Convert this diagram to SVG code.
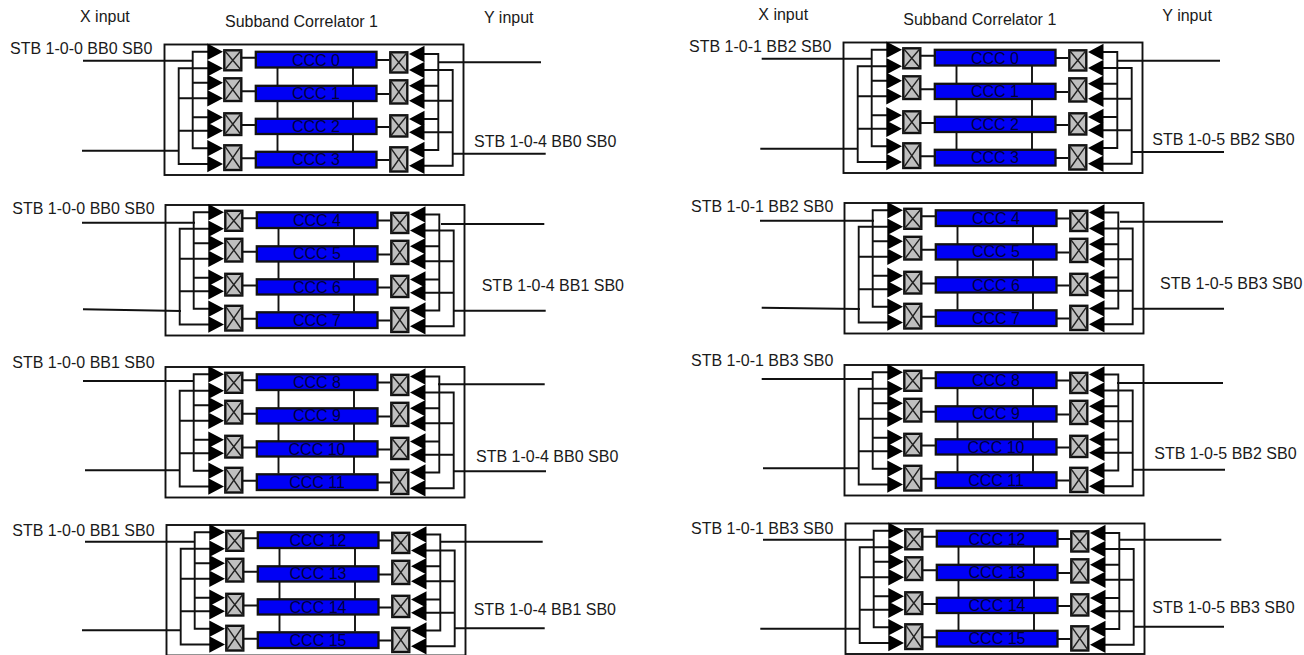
<svg xmlns="http://www.w3.org/2000/svg" width="1304" height="655" viewBox="0 0 1304 655">
<style>
text{font-family:"Liberation Sans",Arial,sans-serif;font-size:16px;fill:#1a1a1a}
.c{text-anchor:middle;fill:#00003c}
.w{fill:none;stroke:#111;stroke-width:1.9}
.f{fill:none;stroke:#111;stroke-width:1.9}
.t{fill:#000;stroke:none}
.x{fill:#bfbfbf;stroke:#111;stroke-width:2.4}
.xc{fill:none;stroke:#222;stroke-width:1.4}
.b{fill:#0000f5;stroke:#111;stroke-width:2.3}
</style>
<defs>
<g id="art">
<rect class="f" x="164.500" y="44.500" width="299" height="130.500"/>
<path class="t" d="M207.300 43.500L223 51.700L207.300 59.900ZM207.300 60.100L223 68.300L207.300 76.500ZM207.300 74.500L223 82.700L207.300 90.900ZM207.300 90.100L223 98.300L207.300 106.500ZM207.300 109.100L223 117.300L207.300 125.500ZM207.300 122.500L223 130.700L207.300 138.900ZM207.300 140.100L223 148.300L207.300 156.500ZM207.300 155.800L223 164L207.300 172.200Z"/>
<path class="t" d="M424.500 45.800L409 54L424.500 62.200ZM424.500 61.800L409 70L424.500 78.200ZM424.500 77.500L409 85.700L424.500 93.900ZM424.500 92.500L409 100.700L424.500 108.900ZM424.500 110.800L409 119L424.500 127.200ZM424.500 124.100L409 132.300L424.500 140.500ZM424.500 141.800L409 150L424.500 158.200ZM424.500 157.500L409 165.700L424.500 173.900Z"/>
<rect class="x" x="224.300" y="50.300" width="17" height="20"/><path class="xc" d="M224.300 50.300L241.300 70.300M241.300 50.300L224.300 70.300"/>
<rect class="x" x="224.300" y="78.300" width="17" height="22.700"/><path class="xc" d="M224.300 78.300L241.300 101M241.300 78.300L224.300 101"/>
<rect class="x" x="224.300" y="113.300" width="17" height="21.700"/><path class="xc" d="M224.300 113.300L241.300 135M241.300 113.300L224.300 135"/>
<rect class="x" x="224.300" y="145.300" width="17" height="24.700"/><path class="xc" d="M224.300 145.300L241.300 170M241.300 145.300L224.300 170"/>
<rect class="x" x="390.300" y="52.300" width="17" height="20.200"/><path class="xc" d="M390.300 52.300L407.300 72.500M407.300 52.300L390.300 72.500"/>
<rect class="x" x="390.300" y="80.300" width="17" height="23.200"/><path class="xc" d="M390.300 80.300L407.300 103.500M407.300 80.300L390.300 103.500"/>
<rect class="x" x="390.300" y="115.300" width="17" height="21.200"/><path class="xc" d="M390.300 115.300L407.300 136.500M407.300 115.300L390.300 136.500"/>
<rect class="x" x="390.300" y="147.300" width="17" height="24.200"/><path class="xc" d="M390.300 147.300L407.300 171.500M407.300 147.300L390.300 171.500"/>
</g>
<rect id="c0" class="b" x="255.800" y="51.800" width="120.700" height="15.700"/>
<rect id="c1" class="b" x="255.800" y="85.800" width="120.700" height="15.200"/>
<rect id="c2" class="b" x="255.800" y="118.800" width="120.700" height="15.200"/>
<rect id="c3" class="b" x="255.800" y="151.800" width="120.700" height="15.700"/>
<g id="wires">
<path class="w" d="M208 51.700H192.700V148.300H208M192.700 82.700H208M192.700 117.300H208M208 68.300H178.700V164H208M178.700 98.300H208M178.700 130.700H208"/>
<path class="w" d="M424 54H438.300V150H424M438.300 85.700H424M438.300 119H424M424 70H452.700V165.700H424M452.700 100.700H424M452.700 132.300H424"/>
<path class="w" d="M241.500 57.700H255M241.500 91.300H255M241.500 125H255M241.500 158.300H255M377 60H389M377 94H389M377 127H389M377 160H389M277.500 68V151M353 68V151"/>
</g>
</defs>
<rect width="1304" height="655" fill="#fff"/>
<g id="connectors">
<use href="#wires"/>
<use href="#wires" transform="translate(1,160.500)"/>
<use href="#wires" transform="translate(1,322.500)"/>
<use href="#wires" transform="translate(2,480.500)"/>
<use href="#wires" transform="translate(679,-2)"/>
<use href="#wires" transform="translate(680,158.500)"/>
<use href="#wires" transform="translate(680,320.500)"/>
<use href="#wires" transform="translate(681,479)"/>
<path class="w" d="M83 60.700H192.700M82 150.700H178.700M438.300 62.300H541M452.700 153.700H545.700"/>
<path class="w" d="M82 222.700H195M83 309.300L181 311M441 224H544.300M453.700 310.700H545.700"/>
<path class="w" d="M83 381H194M85 470.300H179.700M438 384.300H544.700M454 471.300H546"/>
<path class="w" d="M85 541.700H194M82 630.300H181M441 541.700H542.700M455 628.300H544.700"/>
<path class="w" d="M761.700 58.700H871M760.300 148.700H857M1117 60.700H1220M1131 152H1224"/>
<path class="w" d="M760 220.700H874M761.700 307.700L860 309M1120 221.700H1223M1132 308.700H1224"/>
<path class="w" d="M761.700 379H873M763 468.300H858M1117 383H1223M1133 469.700H1225"/>
<path class="w" d="M763 539.700H873M760.300 628.700H859M1120 539.700H1221.300M1134 626.700H1224"/>
</g>
<g id="correlator-a1"><use href="#art"/>
<g id="a-ccc0"><use href="#c0"/><text class="c" x="316" y="65.500">CCC 0</text></g>
<g id="a-ccc1"><use href="#c1"/><text class="c" x="316" y="98.500">CCC 1</text></g>
<g id="a-ccc2"><use href="#c2"/><text class="c" x="316" y="132">CCC 2</text></g>
<g id="a-ccc3"><use href="#c3"/><text class="c" x="316" y="165">CCC 3</text></g>
</g>
<g id="correlator-a2" transform="translate(1,160.500)"><use href="#art"/>
<g id="a-ccc4"><use href="#c0"/><text class="c" x="316" y="65.500">CCC 4</text></g>
<g id="a-ccc5"><use href="#c1"/><text class="c" x="316" y="98.500">CCC 5</text></g>
<g id="a-ccc6"><use href="#c2"/><text class="c" x="316" y="132">CCC 6</text></g>
<g id="a-ccc7"><use href="#c3"/><text class="c" x="316" y="165">CCC 7</text></g>
</g>
<g id="correlator-a3" transform="translate(1,322.500)"><use href="#art"/>
<g id="a-ccc8"><use href="#c0"/><text class="c" x="316" y="65.500">CCC 8</text></g>
<g id="a-ccc9"><use href="#c1"/><text class="c" x="316" y="98.500">CCC 9</text></g>
<g id="a-ccc10"><use href="#c2"/><text class="c" x="316" y="132">CCC 10</text></g>
<g id="a-ccc11"><use href="#c3"/><text class="c" x="316" y="165">CCC 11</text></g>
</g>
<g id="correlator-a4" transform="translate(2,480.500)"><use href="#art"/>
<g id="a-ccc12"><use href="#c0"/><text class="c" x="316" y="65.500">CCC 12</text></g>
<g id="a-ccc13"><use href="#c1"/><text class="c" x="316" y="98.500">CCC 13</text></g>
<g id="a-ccc14"><use href="#c2"/><text class="c" x="316" y="132">CCC 14</text></g>
<g id="a-ccc15"><use href="#c3"/><text class="c" x="316" y="165">CCC 15</text></g>
</g>
<g id="correlator-b1" transform="translate(679,-2)"><use href="#art"/>
<g id="b-ccc0"><use href="#c0"/><text class="c" x="316" y="65.500">CCC 0</text></g>
<g id="b-ccc1"><use href="#c1"/><text class="c" x="316" y="98.500">CCC 1</text></g>
<g id="b-ccc2"><use href="#c2"/><text class="c" x="316" y="132">CCC 2</text></g>
<g id="b-ccc3"><use href="#c3"/><text class="c" x="316" y="165">CCC 3</text></g>
</g>
<g id="correlator-b2" transform="translate(680,158.500)"><use href="#art"/>
<g id="b-ccc4"><use href="#c0"/><text class="c" x="316" y="65.500">CCC 4</text></g>
<g id="b-ccc5"><use href="#c1"/><text class="c" x="316" y="98.500">CCC 5</text></g>
<g id="b-ccc6"><use href="#c2"/><text class="c" x="316" y="132">CCC 6</text></g>
<g id="b-ccc7"><use href="#c3"/><text class="c" x="316" y="165">CCC 7</text></g>
</g>
<g id="correlator-b3" transform="translate(680,320.500)"><use href="#art"/>
<g id="b-ccc8"><use href="#c0"/><text class="c" x="316" y="65.500">CCC 8</text></g>
<g id="b-ccc9"><use href="#c1"/><text class="c" x="316" y="98.500">CCC 9</text></g>
<g id="b-ccc10"><use href="#c2"/><text class="c" x="316" y="132">CCC 10</text></g>
<g id="b-ccc11"><use href="#c3"/><text class="c" x="316" y="165">CCC 11</text></g>
</g>
<g id="correlator-b4" transform="translate(681,479)"><use href="#art"/>
<g id="b-ccc12"><use href="#c0"/><text class="c" x="316" y="65.500">CCC 12</text></g>
<g id="b-ccc13"><use href="#c1"/><text class="c" x="316" y="98.500">CCC 13</text></g>
<g id="b-ccc14"><use href="#c2"/><text class="c" x="316" y="132">CCC 14</text></g>
<g id="b-ccc15"><use href="#c3"/><text class="c" x="316" y="165">CCC 15</text></g>
</g>
<g id="labels">
<text x="80" y="22">X input</text>
<text x="225" y="26.700">Subband Correlator 1</text>
<text x="484" y="22.700">Y input</text>
<text x="758.300" y="20">X input</text>
<text x="903.300" y="25">Subband Correlator 1</text>
<text x="1162.300" y="20.700">Y input</text>
<text x="10" y="53.500">STB 1-0-0 BB0 SB0</text>
<text x="474" y="147">STB 1-0-4 BB0 SB0</text>
<text x="12.300" y="213.500">STB 1-0-0 BB0 SB0</text>
<text x="481.700" y="290.700">STB 1-0-4 BB1 SB0</text>
<text x="12.300" y="367.700">STB 1-0-0 BB1 SB0</text>
<text x="476" y="461.700">STB 1-0-4 BB0 SB0</text>
<text x="12.300" y="536.300">STB 1-0-0 BB1 SB0</text>
<text x="473.700" y="615">STB 1-0-4 BB1 SB0</text>
<text x="689" y="51.700">STB 1-0-1 BB2 SB0</text>
<text x="1152.300" y="144.700">STB 1-0-5 BB2 SB0</text>
<text x="691" y="211.700">STB 1-0-1 BB2 SB0</text>
<text x="1160" y="288.700">STB 1-0-5 BB3 SB0</text>
<text x="691" y="366">STB 1-0-1 BB3 SB0</text>
<text x="1154.300" y="459.300">STB 1-0-5 BB2 SB0</text>
<text x="691" y="534.300">STB 1-0-1 BB3 SB0</text>
<text x="1152.300" y="612.700">STB 1-0-5 BB3 SB0</text>
</g>
</svg>
